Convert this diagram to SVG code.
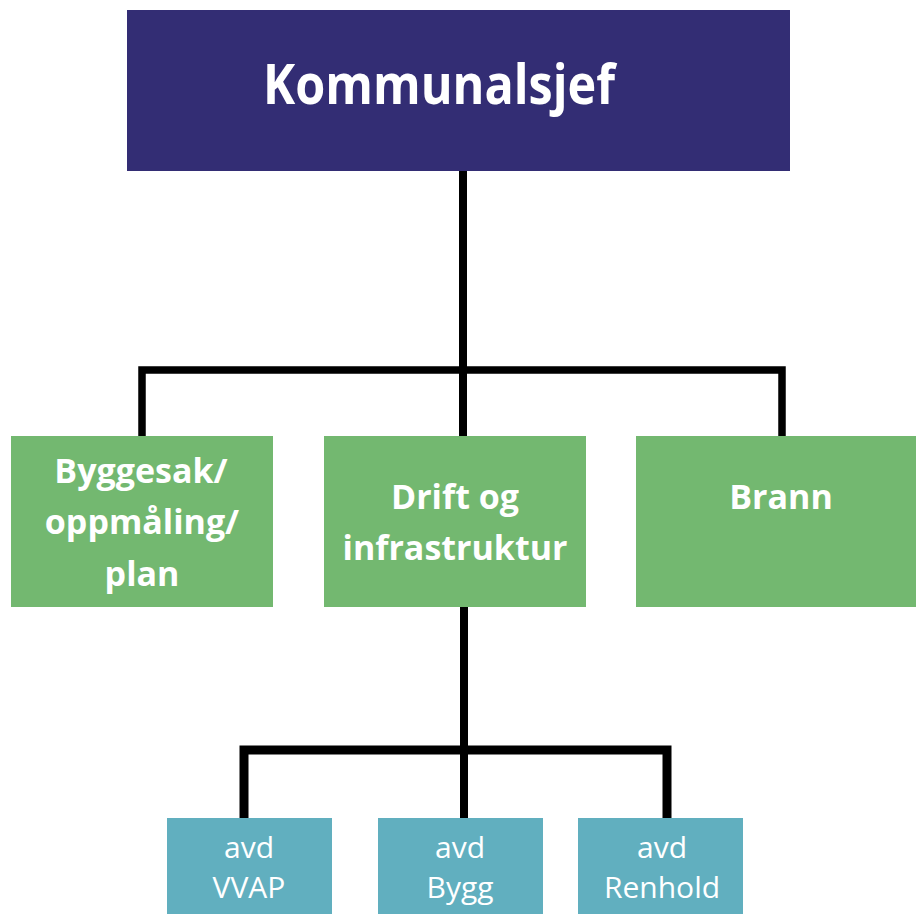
<svg xmlns="http://www.w3.org/2000/svg" width="916" height="914" viewBox="0 0 916 914">
<style>
.top{fill:#332D74}
.grn{fill:#73B870}
.teal{fill:#61AFBF}
.t1{font-family:"Open Sans","Liberation Sans",sans-serif;font-weight:bold;font-size:55px;fill:#fff}
.t2{font-family:"Open Sans","Liberation Sans",sans-serif;font-weight:bold;font-size:34px;fill:#fff;text-anchor:middle}
.t3{font-family:"Open Sans","Liberation Sans",sans-serif;font-size:30px;fill:#fff;text-anchor:middle}
.c{fill:none;stroke:#000;stroke-linejoin:miter;stroke-linecap:butt}
</style>
<rect width="916" height="914" fill="#fff"/>
<g id="connectors">
<path class="c" stroke-width="8" d="M463 171V436"/>
<path class="c" stroke-width="7.5" d="M142 436V370H782V436"/>
<path class="c" stroke-width="8" d="M464 607V818"/>
<path class="c" stroke-width="9" d="M244 818V750H667V818"/>
</g>
<g id="kommunalsjef">
<rect class="top" x="127" y="10" width="663" height="161"/>
<text class="t1" x="263" y="104" textLength="352" lengthAdjust="spacingAndGlyphs">Kommunalsjef</text>
</g>
<g id="byggesak">
<rect class="grn" x="11" y="436" width="262" height="171"/>
<text class="t2" x="141" y="483">Byggesak/</text>
<text class="t2" x="142" y="534">oppmåling/</text>
<text class="t2" x="142" y="586">plan</text>
</g>
<g id="drift">
<rect class="grn" x="324" y="436" width="262" height="171"/>
<text class="t2" x="455" y="509">Drift og</text>
<text class="t2" x="455" y="560">infrastruktur</text>
</g>
<g id="brann">
<rect class="grn" x="636" y="436" width="280" height="171"/>
<text class="t2" x="781" y="509">Brann</text>
</g>
<g id="vvap">
<rect class="teal" x="167" y="818" width="165" height="96"/>
<text class="t3" x="249" y="858">avd</text>
<text class="t3" x="249" y="898">VVAP</text>
</g>
<g id="bygg">
<rect class="teal" x="378" y="818" width="165" height="96"/>
<text class="t3" x="460" y="858">avd</text>
<text class="t3" x="460" y="898">Bygg</text>
</g>
<g id="renhold">
<rect class="teal" x="578" y="818" width="165" height="96"/>
<text class="t3" x="662" y="858">avd</text>
<text class="t3" x="662" y="898">Renhold</text>
</g>
</svg>
